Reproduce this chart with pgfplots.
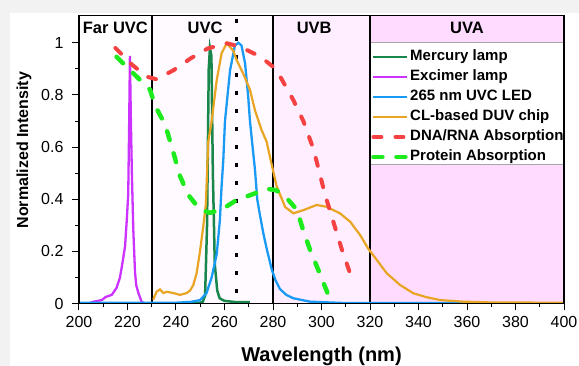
\documentclass[border=0pt]{standalone}
\usepackage{pgfplots}
\pgfplotsset{compat=1.18}
\usepackage{fontspec}
\setmainfont{Liberation Sans}
\definecolor{bggray}{RGB}{242,242,242}
\definecolor{cmerc}{RGB}{25,135,75}
\definecolor{cexc}{RGB}{204,51,255}
\definecolor{cled}{RGB}{25,155,245}
\definecolor{cchip}{RGB}{232,165,35}
\definecolor{cdna}{RGB}{245,65,65}
\definecolor{cprot}{RGB}{30,235,30}
\definecolor{uvc}{RGB}{255,250,255}
\definecolor{uvb}{RGB}{255,238,255}
\definecolor{uva}{RGB}{255,220,255}
\begin{document}
\begin{tikzpicture}[x=1pt,y=1pt]
\fill[bggray] (0,0) rectangle (579,366);
\fill[white] (10,0) rectangle (579,353);
\begin{axis}[
  at={(79pt,62.5pt)}, anchor=south west,
  scale only axis, width=485pt, height=287.8pt,
  xmin=200, xmax=400, ymin=0, ymax=1.104,
  xtick={200,220,240,260,280,300,320,340,360,380,400},
  ytick={0,0.2,0.4,0.6,0.8,1},
  minor x tick num=1, minor y tick num=1,
  tick align=outside, xtick pos=left, ytick pos=left,
  major tick length=7pt, minor tick length=4pt,
  tick style={black, line width=1pt},
  axis line style={line width=1.3pt},
  axis on top,
  ticklabel style={font=\fontsize{16}{19}\selectfont},
  yticklabel style={xshift=-5pt},
  xticklabel style={yshift=-2pt},
  /pgf/number format/assume math mode=true,
  xlabel={Wavelength (nm)}, ylabel={Normalized Intensity},
  xlabel style={font=\bfseries\fontsize{20}{24}\selectfont, at={(axis description cs:0.5,0)}, anchor=base, yshift=-58.5pt},
  ylabel style={font=\bfseries\fontsize{16}{19}\selectfont, at={(axis description cs:-0.1134,0.533)}, anchor=center},
  legend image code/.code={\draw[#1] (0pt,0pt) -- (34pt,0pt);},
  legend style={at={(axis cs:320,1.0)}, anchor=north west, draw=none, fill=none, yshift=-3pt,
    font=\bfseries\fontsize{15}{18}\selectfont, inner xsep=1pt, inner ysep=1pt,
    nodes={inner ysep=1pt, inner xsep=0.5pt, text height=12pt, text depth=6pt}, row sep=0pt},
  legend cell align=left,
]
% region backgrounds
\fill[uvc] (axis cs:230,0) rectangle (axis cs:280,1.104);
\fill[uvb] (axis cs:280,0) rectangle (axis cs:320,1.104);
\fill[uva] (axis cs:320,0) rectangle (axis cs:400,1.104);
\filldraw[fill=white, draw=gray!70, line width=0.8pt] (axis cs:320,0.533) rectangle (axis cs:400,1.0);
\draw[line width=2.2pt] (axis cs:230,0) -- (axis cs:230,1.104);
\draw[line width=2.2pt] (axis cs:280,0) -- (axis cs:280,1.104);
\draw[line width=2.2pt] (axis cs:320,0) -- (axis cs:320,1.104);
\draw[line width=3pt, dash pattern=on 4pt off 14pt] (axis cs:265,1.09) -- (axis cs:265,0.03);
\node[font=\bfseries\fontsize{16.5}{20}\selectfont] at (axis cs:215,1.058) {Far UVC};
\node[font=\bfseries\fontsize{16.5}{20}\selectfont] at (axis cs:252,1.058) {UVC};
\node[font=\bfseries\fontsize{16.5}{20}\selectfont] at (axis cs:297,1.058) {UVB};
\node[font=\bfseries\fontsize{16.5}{20}\selectfont] at (axis cs:360,1.058) {UVA};

\addplot[cmerc, line width=2.5pt] coordinates {
(246,0.002) (250,0.003) (251,0.006) (252,0.03) (252.8,0.3) (253.5,0.9) (254,0.98) (254.6,0.95) (255.2,0.5) (256,0.15) (257,0.05) (258,0.02) (260,0.01) (265,0.005) (270.5,0.005)};
\addlegendentry{Mercury lamp}
\addplot[cexc, line width=2.3pt] coordinates {
(204,0) (206,0.007) (209.4,0.013) (211,0.025) (213.5,0.033) (215.5,0.06) (216.9,0.10) (218,0.16) (219,0.22) (219.7,0.32) (220.3,0.42) (220.7,0.7) (221,0.95) (221.4,0.7) (221.8,0.5) (222.4,0.28) (223.1,0.12) (223.6,0.07) (224.5,0.04) (225.8,0.007) (227,0)};
\addlegendentry{Excimer lamp}
\addplot[cled, line width=2.3pt] coordinates {
(200,0.003) (240,0.003) (246,0.006) (249.9,0.013) (252.6,0.04) (254.7,0.10) (256.8,0.19) (258.1,0.32) (258.8,0.45) (259.5,0.55) (260.2,0.70) (262.3,0.895) (264.3,0.99) (265.7,1.0) (267,0.99) (268.5,0.92) (269.8,0.79) (270.5,0.70) (271.6,0.6) (272.6,0.51) (273.5,0.40) (274.6,0.34) (276,0.27) (277.4,0.21) (279.5,0.13) (281,0.09) (282.9,0.055) (285.5,0.033) (288.4,0.02) (295.3,0.007) (309,0.002) (400,0.001)};
\addlegendentry{265 nm UVC LED}
\addplot[cchip, line width=2.2pt] coordinates {
(230.6,0.015) (232,0.045) (233.4,0.054) (234.8,0.04) (236.2,0.045) (239,0.04) (241.6,0.033) (244.4,0.04) (245.8,0.05) (247.1,0.07) (248.5,0.116) (249.9,0.2) (251.3,0.3) (252.3,0.38) (253.3,0.62) (254.7,0.7) (256.8,0.857) (258.8,0.96) (260.9,0.998) (263.6,0.97) (265,0.934) (267.8,0.88) (270.5,0.82) (272.6,0.74) (275.3,0.665) (277.4,0.62) (278.8,0.56) (281.5,0.45) (285,0.37) (288.4,0.346) (292.5,0.358) (298,0.378) (302.1,0.371) (307.6,0.346) (311.8,0.314) (315.9,0.263) (319.3,0.21) (322.8,0.167) (326.9,0.116) (332.4,0.071) (337.9,0.039) (343.4,0.024) (349,0.013) (358.5,0.007) (370,0.004) (400,0.003)};
\addlegendentry{CL-based DUV chip}
\addplot[cdna, line width=4pt, line cap=round, dash pattern=on 8pt off 14pt] coordinates {
(215,0.98) (222,0.915) (228,0.87) (232,0.86) (239,0.895) (246,0.94) (253,0.978) (261,0.998) (266.5,0.985) (273,0.955) (277.5,0.927) (280,0.908) (283,0.87) (288.4,0.78) (292.5,0.70) (296,0.61) (298,0.545) (301.4,0.42) (305,0.31) (308.3,0.21) (312,0.11)};
\addlegendentry{DNA/RNA Absorption}
\addplot[cprot, line width=4.5pt, line cap=round, dash pattern=on 9pt off 14pt] coordinates {
(215.5,0.946) (222.4,0.883) (229.3,0.82) (231.3,0.76) (234.7,0.70) (236.2,0.665) (238.9,0.58) (241.6,0.49) (245.1,0.416) (249.9,0.36) (254,0.348) (258.8,0.36) (265,0.397) (271.9,0.42) (277.4,0.44) (281,0.435) (284.2,0.42) (289.8,0.36) (292.5,0.28) (295.3,0.205) (298.7,0.128) (302.5,0.04)};
\addlegendentry{Protein Absorption}
\end{axis}
\pgfresetboundingbox
\path[use as bounding box] (0,0) rectangle (579,366);
\end{tikzpicture}
\end{document}
